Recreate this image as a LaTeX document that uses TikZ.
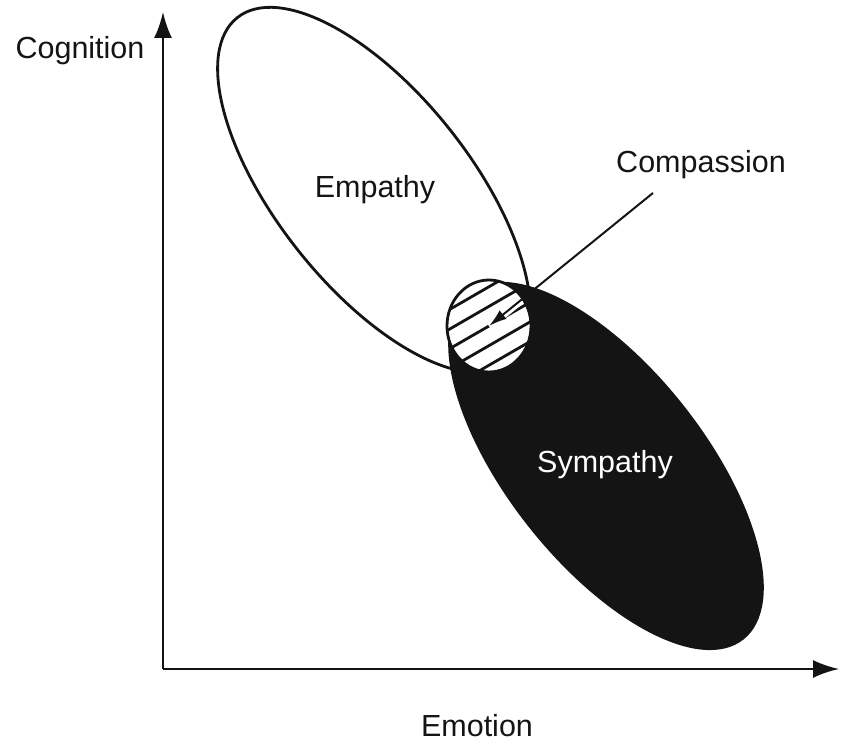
\documentclass[tikz,border=0pt]{standalone}
\usepackage{fontspec}
\setmainfont{Liberation Sans}
\usepackage{tikz}
\usetikzlibrary{positioning,arrows.meta,shapes.geometric}
\definecolor{ink}{HTML}{141414}
\tikzset{
  axis/.style={draw=ink,line width=2.4pt,-{Latex[length=26pt,width=18pt]}},
  blob/.style={ellipse,draw=ink,line width=2.8pt,minimum width=440pt,minimum height=194pt,inner sep=0pt,rotate=-51.6},
  ring/.style={ellipse,draw=ink,line width=2.8pt,fill=white,minimum width=84pt,minimum height=92pt,inner sep=0pt},
  hatch/.style={draw=ink,line width=2.8pt},
  pointer/.style={draw=ink,line width=2pt,-{Latex[length=18pt,width=11pt]}},
  lbl/.style={font=\fontsize{30.5}{34}\selectfont,text=ink}}

\begin{document}
\begin{tikzpicture}[x=1pt,y=1pt]
\useasboundingbox (0,0) rectangle (841,743);
% axes
\coordinate (origin) at (163,74);
\coordinate (ytip) at (163,731);
\coordinate (xtip) at (839,74);
\draw[axis] (origin) -- (ytip);
\draw[axis] (origin) -- (xtip);
\node[lbl] (cognition) at (80,692) {Cognition};
\node[lbl] (emotion) at (477,17) {Emotion};
% the two ovals
\node[blob,fill=white] (empathy) at (374,553) {};
\node[blob,fill=ink] (sympathy) at (606,277) {};
\node[lbl] (emplbl) at (375,553) {Empathy};
\node[lbl,text=white] (symlbl) at (605,278) {Sympathy};
% overlap, hatched
\coordinate (cstart) at (653,550);
\node[ring,path picture={
    \foreach \k in {-3,...,3}
      \draw[hatch] ([shift={({-8.5*\k-60.6},{14.72*\k-35})}]path picture bounding box.center)
        -- ([shift={({-8.5*\k+60.6},{14.72*\k+35})}]path picture bounding box.center);
    \draw[white,line width=8pt] (cstart) -- (path picture bounding box.center);
  }] (compassion) at (489,417) {};
\node[lbl] (comlbl) at (701,578) {Compassion};
\draw[pointer] (cstart) -- (compassion.center);
\end{tikzpicture}
\end{document}
